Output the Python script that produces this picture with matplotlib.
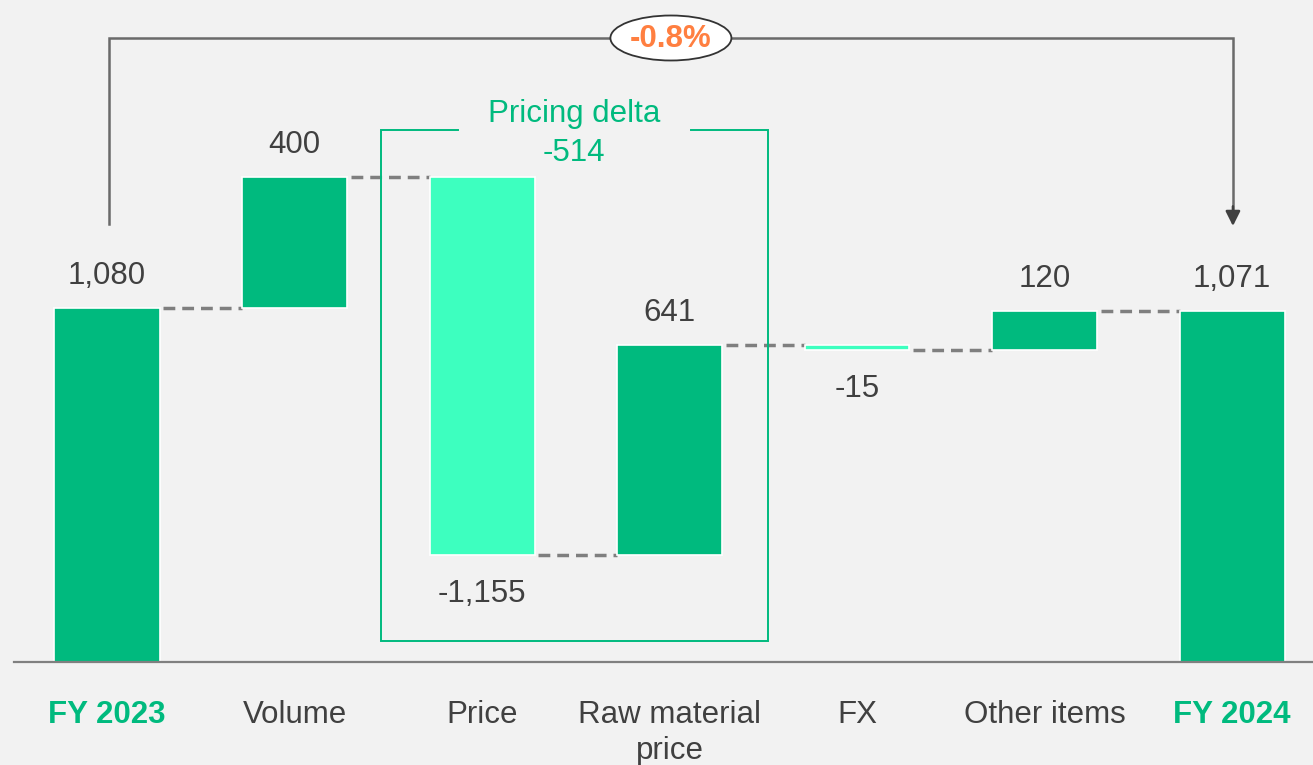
import matplotlib
matplotlib.use('Agg')
import matplotlib.pyplot as plt
from matplotlib.patches import Ellipse

# ---------------- data ----------------
categories = ["FY 2023", "Volume", "Price", "Raw material\nprice", "FX", "Other items", "FY 2024"]
deltas = [1080, 400, -1155, 641, -15, 120, 1071]
value_labels = ["1,080", "400", "-1,155", "641", "-15", "120", "1,071"]
is_total = [True, False, False, False, False, False, True]
pricing_delta_title = "Pricing delta"
pricing_delta_value = "-514"
change_label = "-0.8%"

# ---------------- style ----------------
BG = '#f2f2f2'
DARK = '#00BA7E'
LIGHT = '#3DFFBF'
TXT = '#404040'
GRAY = '#7f7f7f'
ORANGE = '#FF7F40'
FS = 22.5
plt.rcParams['font.family'] = ['Liberation Sans', 'DejaVu Sans']

W, H = 1313, 765
fig = plt.figure(figsize=(W / 100, H / 100), dpi=100)
fig.patch.set_facecolor(BG)
ax = fig.add_axes([0, 0, 1, 1])
ax.set_facecolor(BG)
ax.axis('off')

spacing = 187.5      # px per category
scale = 0.3278       # px per unit
x0px = 107
base_px = 662
ax.set_xlim(-x0px / spacing, (W - x0px) / spacing)
ax.set_ylim(-(H - base_px) / scale, base_px / scale)


def py(p):
    return (base_px - p) / scale


def px(p):
    return (p - x0px) / spacing


bw = 0.56

# compute waterfall
bottoms, heights, ends, colors = [], [], [], []
cum = 0
for d, tot in zip(deltas, is_total):
    if tot:
        bottoms.append(0)
        heights.append(d)
        cum = d
        colors.append(DARK)
    else:
        start = cum
        cum = cum + d
        bottoms.append(min(start, cum))
        heights.append(abs(d))
        colors.append(DARK if d >= 0 else LIGHT)
    ends.append(cum)

xs = list(range(len(categories)))
ax.bar(xs, heights, bottom=bottoms, width=bw, color=colors,
       edgecolor='white', linewidth=1.2, zorder=3)

# connectors
for i in range(len(xs) - 1):
    ax.plot([xs[i] + bw / 2 + 0.02, xs[i + 1] - bw / 2], [ends[i], ends[i]],
            color=GRAY, lw=2.5, ls=(0, (3.4, 2.0)), zorder=2, solid_capstyle='butt')

# value labels
for i, (d, lab) in enumerate(zip(deltas, value_labels)):
    top = bottoms[i] + heights[i]
    if d >= 0:
        ax.annotate(lab, (xs[i], top), xytext=(0, 23), textcoords='offset points',
                    ha='center', va='center', fontsize=FS, color=TXT)
    else:
        ax.annotate(lab, (xs[i], bottoms[i]), xytext=(0, -28), textcoords='offset points',
                    ha='center', va='center', fontsize=FS, color=TXT)

# baseline
ax.plot([px(14), px(W + 5)], [0, 0], color='#808080', lw=1.6, zorder=4, clip_on=False)

# category labels
for i, c in enumerate(categories):
    if is_total[i]:
        ax.text(xs[i], py(700), c, ha='center', va='top', fontsize=FS,
                color=DARK, fontweight='bold', linespacing=1.25)
    else:
        ax.text(xs[i], py(700), c, ha='center', va='top', fontsize=FS,
                color=TXT, linespacing=1.25)

# pricing bracket
bl, br = 2 - bw / 2 - 0.26, 3 + bw / 2 + 0.245
btop = max(ends[1], ends[0]) + 143
bbot = 64
bc = (bl + br) / 2
gap = 0.621
ax.plot([bc - gap, bl, bl, br, br, bc + gap], [btop, btop, bbot, bbot, btop, btop],
        color=DARK, lw=1.4, zorder=2, solid_joinstyle='miter')
ax.text(bc, btop + 16 / scale, pricing_delta_title, ha='center', va='center',
        fontsize=FS, color=DARK)
ax.text(bc, btop - 23 / scale, pricing_delta_value, ha='center', va='center',
        fontsize=FS, color=DARK)

# overall change arrow
ytop = py(38)
yl = py(224)
ytip = py(226)
xl = xs[0] + 0.01
xr = xs[-1] + 0.005
ax.plot([xl, xl, xr, xr], [yl, ytop, ytop, ytip + 40], color='#6a6a6a', lw=1.8,
        zorder=2, solid_joinstyle='miter')
ax.annotate('', xy=(xr, ytip), xytext=(xr, ytip + 60),
            arrowprops=dict(arrowstyle='-|>', color='#404040', lw=1.8,
                            mutation_scale=22, shrinkA=0, shrinkB=0))
ell = Ellipse(((xl + xr) / 2, ytop), width=121 / spacing, height=45 / scale,
              facecolor='white', edgecolor='#333333', lw=1.3, zorder=5)
ax.add_patch(ell)
ax.text((xl + xr) / 2, ytop - 2, change_label, ha='center', va='center', fontsize=FS,
        color=ORANGE, fontweight='bold', zorder=6)

fig.savefig('out.png', dpi=100, facecolor=BG)
